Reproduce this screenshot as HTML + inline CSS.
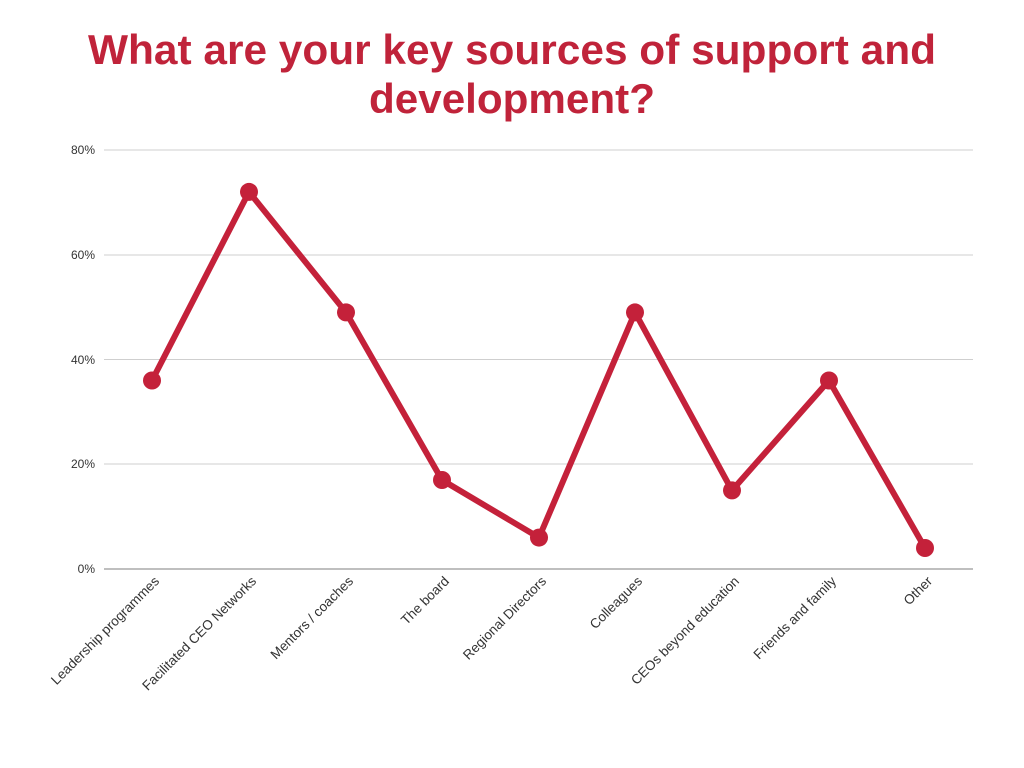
<!DOCTYPE html>
<html><head><meta charset="utf-8"><style>html,body{margin:0;padding:0;background:#fff}svg{display:block}</style></head>
<body>
<svg width="1024" height="768" xmlns="http://www.w3.org/2000/svg" font-family="Liberation Sans, sans-serif">
<rect width="1024" height="768" fill="#fff"/>
<text x="512" y="64" text-anchor="middle" font-size="42" font-weight="bold" fill="#c0233a" textLength="848" lengthAdjust="spacingAndGlyphs">What are your key sources of support and</text>
<text x="512" y="113" text-anchor="middle" font-size="42" font-weight="bold" fill="#c0233a" textLength="286" lengthAdjust="spacingAndGlyphs">development?</text>
<g stroke="#cfcfcf" stroke-width="1">
<line x1="104" y1="150" x2="973" y2="150"/>
<line x1="104" y1="255" x2="973" y2="255"/>
<line x1="104" y1="359.5" x2="973" y2="359.5"/>
<line x1="104" y1="464" x2="973" y2="464"/>
</g>
<line x1="104" y1="569" x2="973" y2="569" stroke="#999" stroke-width="1.3"/>
<g font-size="12" fill="#333" text-anchor="end">
<text x="95" y="154">80%</text>
<text x="95" y="259">60%</text>
<text x="95" y="364">40%</text>
<text x="95" y="468">20%</text>
<text x="95" y="573">0%</text>
</g>
<polyline fill="none" stroke="#c4213a" stroke-width="6" stroke-linejoin="round" points="152,380.5 249,191.9 346,312.4 442,480 539,537.6 635,312.4 732,490.4 829,380.5 925,548"/>
<g fill="#c4213a">
<circle cx="152" cy="380.5" r="9"/><circle cx="249" cy="191.9" r="9"/><circle cx="346" cy="312.4" r="9"/>
<circle cx="442" cy="480" r="9"/><circle cx="539" cy="537.6" r="9"/><circle cx="635" cy="312.4" r="9"/>
<circle cx="732" cy="490.4" r="9"/><circle cx="829" cy="380.5" r="9"/><circle cx="925" cy="548" r="9"/>
</g>
<g font-size="13.5" fill="#333" text-anchor="end">
<text transform="translate(160,582) rotate(-45)">Leadership programmes</text>
<text transform="translate(257,582) rotate(-45)">Facilitated CEO Networks</text>
<text transform="translate(354,582) rotate(-45)">Mentors / coaches</text>
<text transform="translate(450,582) rotate(-45)">The board</text>
<text transform="translate(547,582) rotate(-45)">Regional Directors</text>
<text transform="translate(643,582) rotate(-45)">Colleagues</text>
<text transform="translate(740,582) rotate(-45)">CEOs beyond education</text>
<text transform="translate(837,582) rotate(-45)">Friends and family</text>
<text transform="translate(933,582) rotate(-45)">Other</text>
</g>
</svg>
</body></html>
